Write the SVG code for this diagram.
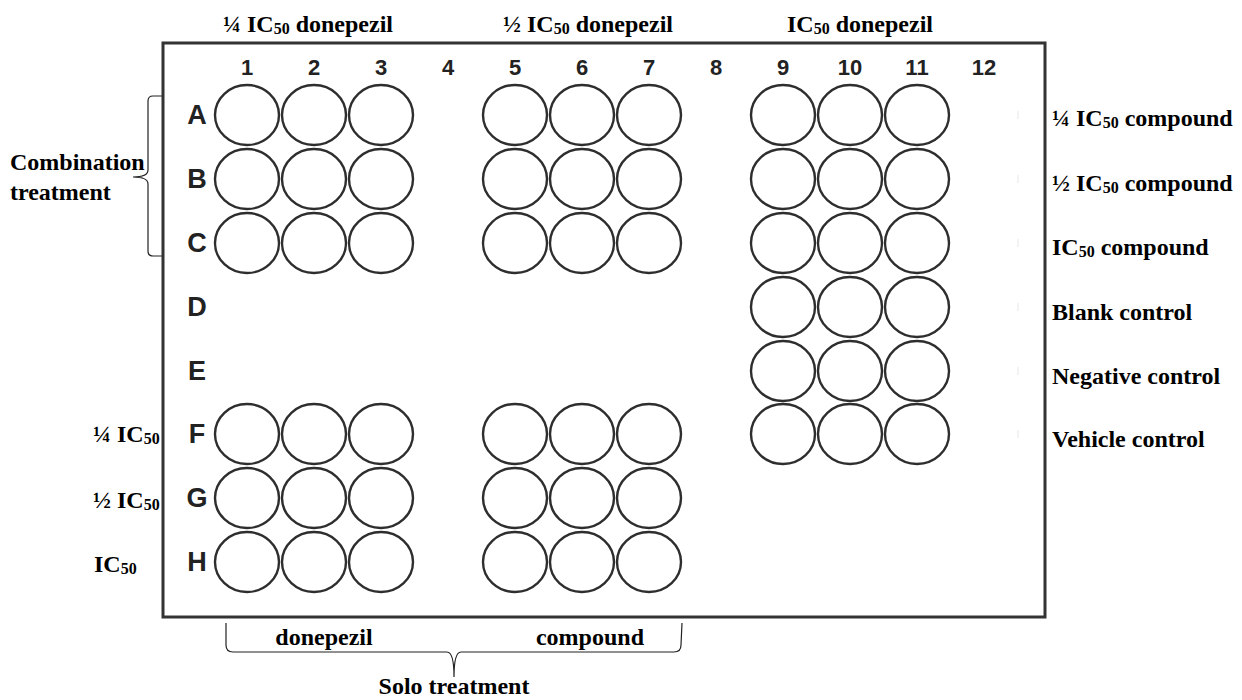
<svg xmlns="http://www.w3.org/2000/svg" width="1242" height="700" viewBox="0 0 1242 700">
<style>
.lab{font-family:"Liberation Serif","Times New Roman",serif;font-weight:bold;font-size:24px;fill:#000}
.sub{font-size:16px}
.num{font-family:"Liberation Sans",Arial,sans-serif;font-weight:bold;font-size:22px;fill:#222;text-anchor:middle}
.row{font-family:"Liberation Sans",Arial,sans-serif;font-weight:bold;font-size:27px;fill:#222;text-anchor:middle}
.well{fill:none;stroke:#2e2e2e;stroke-width:2.4}
.plate{fill:#fff;stroke:#333;stroke-width:3}
.brace{fill:none;stroke:#222;stroke-width:1.2}
.faint{stroke:#efefef;stroke-width:1.5}
</style>
<rect width="1242" height="700" fill="#fff"/>
<g id="plate">
<rect class="plate" x="163" y="43" width="882" height="574"/>
<g class="faint">
<line x1="1018" y1="111" x2="1018" y2="119"/><line x1="1018" y1="175" x2="1018" y2="183"/><line x1="1018" y1="239" x2="1018" y2="247"/><line x1="1018" y1="303" x2="1018" y2="311"/><line x1="1018" y1="367" x2="1018" y2="375"/><line x1="1018" y1="430" x2="1018" y2="438"/>
</g>
</g>
<g id="col-numbers">
<text class="num" x="247" y="75">1</text><text class="num" x="314" y="75">2</text><text class="num" x="381" y="75">3</text><text class="num" x="448" y="75">4</text><text class="num" x="515" y="75">5</text><text class="num" x="582" y="75">6</text><text class="num" x="649" y="75">7</text><text class="num" x="716" y="75">8</text><text class="num" x="783" y="75">9</text><text class="num" x="850" y="75">10</text><text class="num" x="917" y="75">11</text><text class="num" x="984" y="75">12</text>
</g>
<g id="row-letters">
<text class="row" x="197" y="124">A</text><text class="row" x="197" y="188">B</text><text class="row" x="197" y="252">C</text><text class="row" x="197" y="316">D</text><text class="row" x="197" y="380">E</text><text class="row" x="197" y="443">F</text><text class="row" x="197" y="507">G</text><text class="row" x="197" y="571">H</text>
</g>
<g id="wells">
<g id="A1"><ellipse class="well" cx="247" cy="115" rx="32" ry="30"/></g>
<g id="A2"><ellipse class="well" cx="314" cy="115" rx="32" ry="30"/></g>
<g id="A3"><ellipse class="well" cx="381" cy="115" rx="32" ry="30"/></g>
<g id="A5"><ellipse class="well" cx="515" cy="115" rx="32" ry="30"/></g>
<g id="A6"><ellipse class="well" cx="582" cy="115" rx="32" ry="30"/></g>
<g id="A7"><ellipse class="well" cx="649" cy="115" rx="32" ry="30"/></g>
<g id="A9"><ellipse class="well" cx="783" cy="115" rx="32" ry="30"/></g>
<g id="A10"><ellipse class="well" cx="850" cy="115" rx="32" ry="30"/></g>
<g id="A11"><ellipse class="well" cx="917" cy="115" rx="32" ry="30"/></g>
<g id="B1"><ellipse class="well" cx="247" cy="179" rx="32" ry="30"/></g>
<g id="B2"><ellipse class="well" cx="314" cy="179" rx="32" ry="30"/></g>
<g id="B3"><ellipse class="well" cx="381" cy="179" rx="32" ry="30"/></g>
<g id="B5"><ellipse class="well" cx="515" cy="179" rx="32" ry="30"/></g>
<g id="B6"><ellipse class="well" cx="582" cy="179" rx="32" ry="30"/></g>
<g id="B7"><ellipse class="well" cx="649" cy="179" rx="32" ry="30"/></g>
<g id="B9"><ellipse class="well" cx="783" cy="179" rx="32" ry="30"/></g>
<g id="B10"><ellipse class="well" cx="850" cy="179" rx="32" ry="30"/></g>
<g id="B11"><ellipse class="well" cx="917" cy="179" rx="32" ry="30"/></g>
<g id="C1"><ellipse class="well" cx="247" cy="243" rx="32" ry="30"/></g>
<g id="C2"><ellipse class="well" cx="314" cy="243" rx="32" ry="30"/></g>
<g id="C3"><ellipse class="well" cx="381" cy="243" rx="32" ry="30"/></g>
<g id="C5"><ellipse class="well" cx="515" cy="243" rx="32" ry="30"/></g>
<g id="C6"><ellipse class="well" cx="582" cy="243" rx="32" ry="30"/></g>
<g id="C7"><ellipse class="well" cx="649" cy="243" rx="32" ry="30"/></g>
<g id="C9"><ellipse class="well" cx="783" cy="243" rx="32" ry="30"/></g>
<g id="C10"><ellipse class="well" cx="850" cy="243" rx="32" ry="30"/></g>
<g id="C11"><ellipse class="well" cx="917" cy="243" rx="32" ry="30"/></g>
<g id="D9"><ellipse class="well" cx="783" cy="307" rx="32" ry="30"/></g>
<g id="D10"><ellipse class="well" cx="850" cy="307" rx="32" ry="30"/></g>
<g id="D11"><ellipse class="well" cx="917" cy="307" rx="32" ry="30"/></g>
<g id="E9"><ellipse class="well" cx="783" cy="371" rx="32" ry="30"/></g>
<g id="E10"><ellipse class="well" cx="850" cy="371" rx="32" ry="30"/></g>
<g id="E11"><ellipse class="well" cx="917" cy="371" rx="32" ry="30"/></g>
<g id="F1"><ellipse class="well" cx="247" cy="434" rx="32" ry="30"/></g>
<g id="F2"><ellipse class="well" cx="314" cy="434" rx="32" ry="30"/></g>
<g id="F3"><ellipse class="well" cx="381" cy="434" rx="32" ry="30"/></g>
<g id="F5"><ellipse class="well" cx="515" cy="434" rx="32" ry="30"/></g>
<g id="F6"><ellipse class="well" cx="582" cy="434" rx="32" ry="30"/></g>
<g id="F7"><ellipse class="well" cx="649" cy="434" rx="32" ry="30"/></g>
<g id="F9"><ellipse class="well" cx="783" cy="434" rx="32" ry="30"/></g>
<g id="F10"><ellipse class="well" cx="850" cy="434" rx="32" ry="30"/></g>
<g id="F11"><ellipse class="well" cx="917" cy="434" rx="32" ry="30"/></g>
<g id="G1"><ellipse class="well" cx="247" cy="498" rx="32" ry="30"/></g>
<g id="G2"><ellipse class="well" cx="314" cy="498" rx="32" ry="30"/></g>
<g id="G3"><ellipse class="well" cx="381" cy="498" rx="32" ry="30"/></g>
<g id="G5"><ellipse class="well" cx="515" cy="498" rx="32" ry="30"/></g>
<g id="G6"><ellipse class="well" cx="582" cy="498" rx="32" ry="30"/></g>
<g id="G7"><ellipse class="well" cx="649" cy="498" rx="32" ry="30"/></g>
<g id="H1"><ellipse class="well" cx="247" cy="562" rx="32" ry="30"/></g>
<g id="H2"><ellipse class="well" cx="314" cy="562" rx="32" ry="30"/></g>
<g id="H3"><ellipse class="well" cx="381" cy="562" rx="32" ry="30"/></g>
<g id="H5"><ellipse class="well" cx="515" cy="562" rx="32" ry="30"/></g>
<g id="H6"><ellipse class="well" cx="582" cy="562" rx="32" ry="30"/></g>
<g id="H7"><ellipse class="well" cx="649" cy="562" rx="32" ry="30"/></g>
</g>
<g id="connectors">
<path class="brace" d="M162,96 L153,96 Q148,96 148,101 L148,170 Q148,177 133,177 Q148,177 148,184 L148,251 Q148,256 153,256 L162,256"/>
<path class="brace" d="M226,623 L226,645 Q226,652 233,652 L447,652 Q454,652 454,677 Q454,652 461,652 L674,652 Q681,652 681,645 L682,623"/>
</g>
<g id="top-labels">
<text class="lab" x="223" y="32">¼ IC<tspan class="sub" dy="2">50</tspan><tspan dy="-2"> donepezil</tspan></text>
<text class="lab" x="503" y="32">½ IC<tspan class="sub" dy="2">50</tspan><tspan dy="-2"> donepezil</tspan></text>
<text class="lab" x="787" y="32">IC<tspan class="sub" dy="2">50</tspan><tspan dy="-2"> donepezil</tspan></text>
</g>
<g id="right-labels">
<text class="lab" x="1052" y="126">¼ IC<tspan class="sub" dy="2">50</tspan><tspan dy="-2"> compound</tspan></text>
<text class="lab" x="1052" y="191">½ IC<tspan class="sub" dy="2">50</tspan><tspan dy="-2"> compound</tspan></text>
<text class="lab" x="1052" y="255">IC<tspan class="sub" dy="2">50</tspan><tspan dy="-2"> compound</tspan></text>
<text class="lab" x="1052" y="320">Blank control</text>
<text class="lab" x="1052" y="384">Negative control</text>
<text class="lab" x="1052" y="447">Vehicle control</text>
</g>
<g id="left-labels">
<text class="lab" x="10" y="170">Combination</text>
<text class="lab" x="10" y="200">treatment</text>
<text class="lab" x="93" y="442">¼ IC<tspan class="sub" dy="2">50</tspan></text>
<text class="lab" x="93" y="508">½ IC<tspan class="sub" dy="2">50</tspan></text>
<text class="lab" x="94" y="572">IC<tspan class="sub" dy="2">50</tspan></text>
</g>
<g id="bottom-labels">
<text class="lab" x="324" y="645" text-anchor="middle">donepezil</text>
<text class="lab" x="590" y="645" text-anchor="middle">compound</text>
<text class="lab" x="454" y="694" text-anchor="middle">Solo treatment</text>
</g>
</svg>
